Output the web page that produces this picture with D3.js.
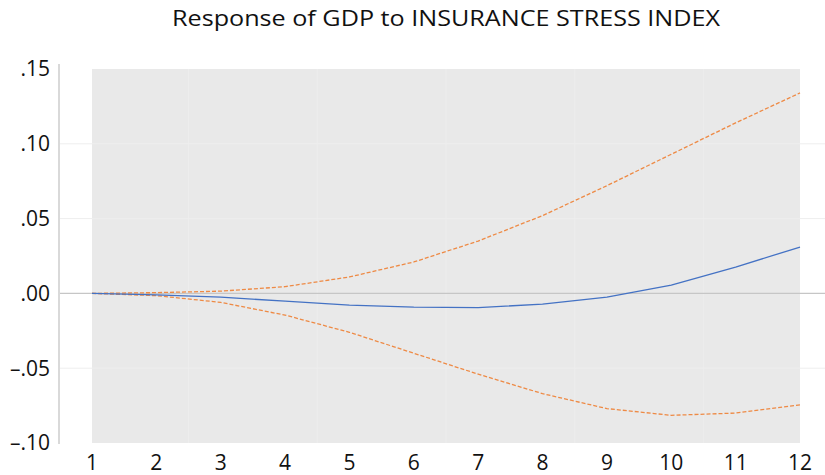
<!DOCTYPE html>
<html>
<head>
<meta charset="utf-8">
<script src="https://cdn.jsdelivr.net/npm/d3@7"></script>
<style>
  body { margin: 0; background: #fff; }
  svg { display: block; }
</style>
</head>
<body>
<div id="chart"></div>
<script>
// Impulse response data
const periods = [1, 2, 3, 4, 5, 6, 7, 8, 9, 10, 11, 12];
const response = [0, -0.001, -0.0025, -0.0052, -0.0078, -0.0092, -0.0095, -0.0072, -0.0025, 0.0055, 0.0176, 0.031];
const upperBand = [0, 0.0005, 0.0015, 0.0045, 0.011, 0.021, 0.035, 0.052, 0.072, 0.093, 0.114, 0.134];
const lowerBand = [0, -0.0015, -0.006, -0.0145, -0.026, -0.040, -0.054, -0.067, -0.077, -0.0815, -0.080, -0.0745];
const yTicks = [-0.10, -0.05, 0, 0.05, 0.10, 0.15];
const yTickLabels = ['\u2013.10', '\u2013.05', '.00', '.05', '.10', '.15'];
const title = 'Response of GDP to INSURANCE STRESS INDEX';

const width = 825, height = 475;
const plot = {left: 92, right: 800, top: 69, bottom: 443};
const axisX = 59;

const svg = d3.select('#chart').append('svg')
  .attr('width', width)
  .attr('height', height)
  .style('font-family', '"Open Sans", "Noto Sans", sans-serif');

const x = d3.scaleLinear().domain([1, 12]).range([plot.left, plot.right]);
const y = d3.scaleLinear().domain([-0.10, 0.15]).range([plot.bottom, plot.top]);

// Gray plot background
svg.append('rect')
  .attr('x', plot.left).attr('y', plot.top)
  .attr('width', plot.right - plot.left)
  .attr('height', plot.bottom - plot.top)
  .attr('fill', '#e9e9e9');

// faint vertical gridlines between periods
svg.append('g').selectAll('line')
  .data([2.5, 4.5, 6.5, 8.5, 10.5])
  .enter().append('line')
  .attr('x1', d => x(d)).attr('x2', d => x(d))
  .attr('y1', plot.top).attr('y2', plot.bottom)
  .attr('stroke', '#ededed').attr('stroke-width', 1);

// horizontal gridlines
svg.append('g').selectAll('line')
  .data(yTicks.filter(d => d !== 0 && d !== 0.15 && d !== -0.10))
  .enter().append('line')
  .attr('x1', axisX).attr('x2', width)
  .attr('y1', d => y(d)).attr('y2', d => y(d))
  .attr('stroke', '#eeeeee').attr('stroke-width', 1);

// zero line
svg.append('line')
  .attr('x1', axisX).attr('x2', width)
  .attr('y1', y(0)).attr('y2', y(0))
  .attr('stroke', '#c6c6c6').attr('stroke-width', 1.2);

// y axis line
svg.append('line')
  .attr('x1', axisX).attr('x2', axisX)
  .attr('y1', plot.top - 5).attr('y2', plot.bottom + 1)
  .attr('stroke', '#d9d9d9').attr('stroke-width', 2);

// y tick labels
svg.append('g').selectAll('text')
  .data(yTicks)
  .enter().append('text')
  .attr('x', 50)
  .attr('y', d => y(d))
  .attr('dy', '0.35em')
  .attr('text-anchor', 'end')
  .style('font-size', '21px')
  .attr('fill', '#111')
  .text((d, i) => yTickLabels[i]);

// x tick labels
svg.append('g').selectAll('text')
  .data(periods)
  .enter().append('text')
  .attr('x', d => x(d))
  .attr('y', 470)
  .attr('text-anchor', 'middle')
  .style('font-size', '21px')
  .attr('fill', '#111')
  .text(d => d);

const line = d3.line()
  .x((d, i) => x(periods[i]))
  .y(d => y(d));

svg.append('path')
  .datum(upperBand)
  .attr('d', line)
  .attr('fill', 'none')
  .attr('stroke', '#ee8a45')
  .attr('stroke-width', 1.3)
  .attr('stroke-dasharray', '4,2');

svg.append('path')
  .datum(lowerBand)
  .attr('d', line)
  .attr('fill', 'none')
  .attr('stroke', '#ee8a45')
  .attr('stroke-width', 1.3)
  .attr('stroke-dasharray', '4,2');

svg.append('path')
  .datum(response)
  .attr('d', line)
  .attr('fill', 'none')
  .attr('stroke', '#4472c4')
  .attr('stroke-width', 1.3);

// Title
svg.append('text')
  .attr('x', 446)
  .attr('y', 26)
  .attr('text-anchor', 'middle')
  .attr('textLength', 548)
  .attr('lengthAdjust', 'spacingAndGlyphs')
  .style('font-size', '22px')
  .attr('fill', '#111')
  .text(title);
</script>
</body>
</html>
